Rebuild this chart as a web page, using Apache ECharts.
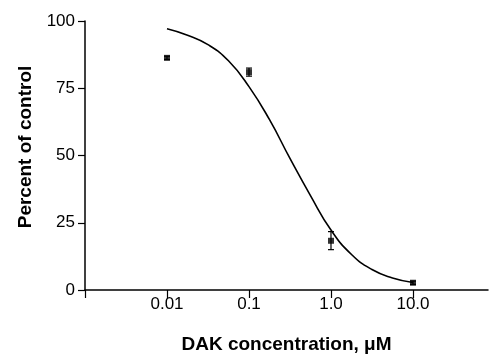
<!DOCTYPE html>
<html>
<head>
<meta charset="utf-8">
<script src="https://cdn.jsdelivr.net/npm/echarts@6/dist/echarts.min.js"></script>
<style>
html,body{margin:0;padding:0;background:#fff;}
#c{width:490px;height:359px;}
</style>
</head>
<body>
<div id="c"></div>
<script>
// Measured points (DAK concentration in µM, percent of control)
var concentrations = [0.01, 0.1, 1.0, 10.0];
var percentValues = [86.3, 81.0, 18.3, 2.7];
var errLow = [85.7, 79.5, 15.0, 2.1];
var errHigh = [86.9, 82.5, 21.7, 3.3];

// Fitted curve at quarter-decade steps
var curveX = [0.01, 0.0178, 0.0316, 0.0562, 0.1, 0.178, 0.316, 0.562, 1.0, 1.78, 3.16, 5.62, 10];
var curveY = [97.1, 94.7, 91.2, 85.2, 75.6, 63.3, 48.9, 35.1, 22.3, 13.2, 7.6, 4.5, 2.8];

// Axis ranges and tick labels
var xMin = 0.001;
var xMax = 82.2;
var xTickValues = [0.001, 0.01, 0.1, 1, 10];
var xLabelValues = [0.01, 0.1, 1, 10];
var xTickLabels = ['0.01', '0.1', '1.0', '10.0'];
var yTicks = [0, 25, 50, 75, 100];

var FONT = '"Liberation Sans", Arial, sans-serif';

var chart = echarts.init(document.getElementById('c'));

var points = concentrations.map(function (c, i) { return [c, percentValues[i]]; });
var errs = concentrations.map(function (c, i) { return [c, errLow[i], errHigh[i]]; });
var curve = curveX.map(function (c, i) { return [c, curveY[i]]; });

chart.setOption({
  animation: false,
  backgroundColor: '#fff',
  grid: { left: 85, top: 21, right: 2, height: 272, containLabel: false },
  xAxis: {
    type: 'log',
    logBase: 10,
    min: xMin,
    max: xMax,
    name: 'DAK concentration, \u03bcM',
    nameLocation: 'middle',
    nameGap: 45,
    nameTextStyle: { fontFamily: FONT, fontWeight: 'bold', fontSize: 19, color: '#000' },
    axisLine: { lineStyle: { color: '#000', width: 1.5 } },
    axisTick: { length: 8, customValues: xTickValues, lineStyle: { color: '#000', width: 1.2 } },
    axisLabel: {
      margin: 6,
      customValues: xLabelValues,
      fontFamily: FONT, fontSize: 17, color: '#000',
      formatter: function (v) {
        for (var i = 0; i < xLabelValues.length; i++) {
          if (Math.abs(Math.log10(v) - Math.log10(xLabelValues[i])) < 1e-6) return xTickLabels[i];
        }
        return '';
      }
    },
    splitLine: { show: false },
    minorTick: { show: false }
  },
  yAxis: {
    type: 'value',
    min: yTicks[0],
    max: yTicks[yTicks.length - 1],
    interval: 25,
    name: 'Percent of control',
    nameLocation: 'middle',
    nameGap: 50,
    nameTextStyle: { fontFamily: FONT, fontWeight: 'bold', fontSize: 19, color: '#000', padding: [0, 0, 0, 17] },
    axisLine: { show: true, lineStyle: { color: '#000', width: 1.5 } },
    axisTick: { show: true, length: 7, lineStyle: { color: '#000', width: 1.2 } },
    axisLabel: { margin: 10, fontFamily: FONT, fontSize: 17, color: '#000' },
    splitLine: { show: false }
  },
  series: [
    {
      type: 'line',
      data: curve,
      smooth: 0.5,
      showSymbol: false,
      lineStyle: { color: '#000', width: 1.6 },
      z: 2
    },
    {
      type: 'custom',
      data: errs,
      renderItem: function (params, api) {
        var x = api.value(0);
        var lo = api.coord([x, api.value(1)]);
        var hi = api.coord([x, api.value(2)]);
        var hw = 3;
        var st = { stroke: '#000', lineWidth: 1.2 };
        return {
          type: 'group',
          children: [
            { type: 'line', shape: { x1: lo[0], y1: lo[1], x2: hi[0], y2: hi[1] }, style: st },
            { type: 'line', shape: { x1: lo[0] - hw, y1: lo[1], x2: lo[0] + hw, y2: lo[1] }, style: st },
            { type: 'line', shape: { x1: hi[0] - hw, y1: hi[1], x2: hi[0] + hw, y2: hi[1] }, style: st }
          ]
        };
      },
      z: 3
    },
    {
      type: 'scatter',
      data: points,
      symbol: 'rect',
      symbolSize: 6,
      itemStyle: { color: '#000' },
      z: 4
    }
  ]
});
</script>
</body>
</html>
